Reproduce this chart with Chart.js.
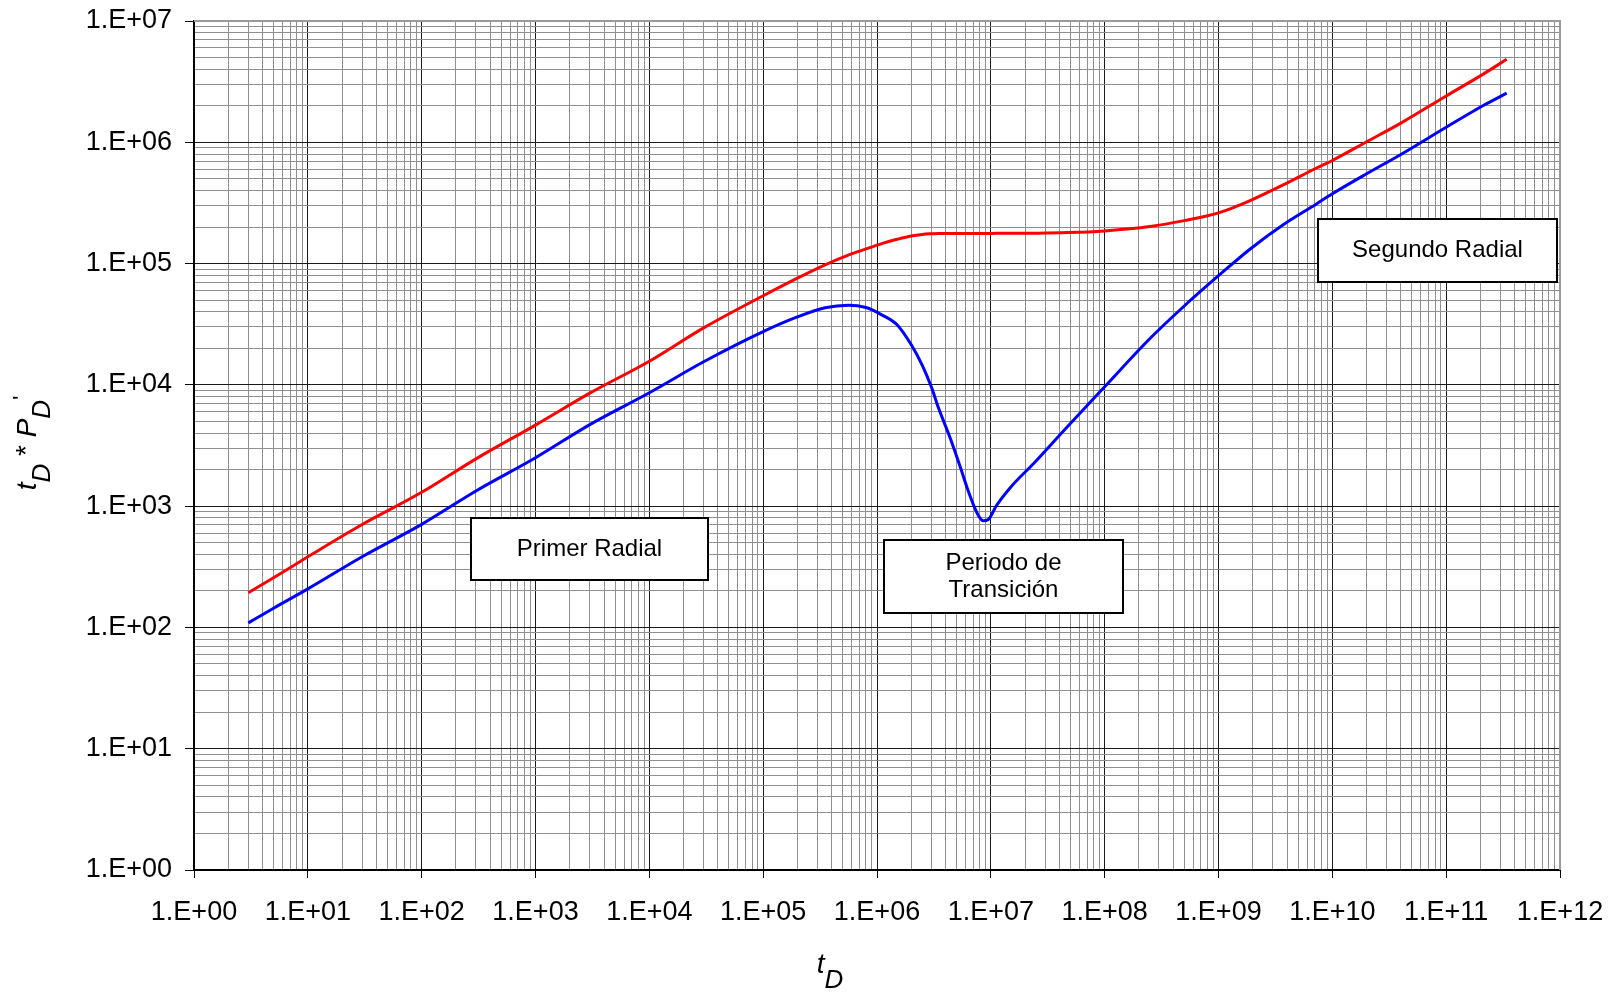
<!DOCTYPE html>
<html>
<head>
<meta charset="utf-8">
<script src="https://cdn.jsdelivr.net/npm/chart.js@4/dist/chart.umd.min.js"></script>
<style>
  body { margin: 0; background: #fff; }
  canvas { display: block; }
</style>
</head>
<body>
<canvas id="grafico" width="1619" height="992"></canvas>
<script>
// tiempo adimensional tD (eje x)
var tD = [3, 5, 10, 30, 100, 300, 1000, 3000, 1e4, 3e4, 1e5, 2e5, 3.5e5, 5.6e5, 8e5,
  1.1e6, 1.5e6, 2e6, 2.5e6, 3e6, 3.5e6, 4.4e6, 5.4e6, 6.3e6, 7.6e6, 8.6e6, 9.5e6,
  1.12e7, 1.5e7, 2.4e7, 4.7e7, 1e8, 2.5e8, 5e8, 1e9, 1.9e9, 3.7e9, 7.2e9, 1e10,
  2e10, 4e10, 1e11, 2.1e11, 3.4e11];

// tD*PD' curva roja
var derivRoja = [193, 257, 382, 705, 1300, 2455, 4660, 8550, 15670, 29500, 54300,
  75900, 97700, 117500, 132000, 146000, 158500, 169000, 174000, 176000, 177000,
  177000, 177000, 177000, 177000, 177000, 177000, 177500, 177500, 178000, 180000,
  186000, 202000, 226000, 262000, 331000, 445000, 611000, 708000, 1010000,
  1440000, 2410000, 3630000, 4830000];

// tD*PD' curva azul
var derivAzul = [109, 144, 208, 383, 708, 1334, 2505, 4700, 8610, 15500, 27500,
  36300, 43200, 45400, 43400, 37800, 31300, 21400, 14500, 9640, 6310, 3630, 2090,
  1350, 871, 757, 776, 1010, 1440, 2270, 4520, 9640, 24100, 44700, 79400, 132000,
  209000, 309000, 376000, 550000, 794000, 1330000, 2000000, 2540000];

var xTickLabels = ['1.E+00', '1.E+01', '1.E+02', '1.E+03', '1.E+04', '1.E+05', '1.E+06',
  '1.E+07', '1.E+08', '1.E+09', '1.E+10', '1.E+11', '1.E+12'];
var yTickLabels = ['1.E+00', '1.E+01', '1.E+02', '1.E+03', '1.E+04', '1.E+05', '1.E+06', '1.E+07'];

// cuadros de texto (en unidades de los ejes)
var cuadros = [
  { lineas: ['Primer Radial'], x0: 2.71e2, x1: 3.28e4, y0: 798, y1: 246 },
  { lineas: ['Periodo de', 'Transición'], x0: 1.15e6, x1: 1.45e8, y0: 526, y1: 131 },
  { lineas: ['Segundo Radial'], x0: 7.48e9, x1: 9.42e11, y0: 2.33e5, y1: 7.05e4 }
];

var FUENTE = '"Liberation Sans", Arial, sans-serif';

function puntos(ys) {
  return tD.map(function (t, i) { return { x: t, y: ys[i] }; });
}

// ticks 1..9 por decada, el 1 es el mayor
function decadas(scale) {
  var ticks = [];
  var e0 = Math.round(Math.log10(scale.min));
  var e1 = Math.round(Math.log10(scale.max));
  for (var e = e0; e <= e1; e++) {
    for (var m = 1; m <= 9; m++) {
      if (e === e1 && m > 1) break;
      ticks.push({ value: m * Math.pow(10, e), major: m === 1 });
    }
  }
  scale.ticks = ticks;
}

function etiqueta(labels) {
  return function (value) {
    var e = Math.log10(value);
    if (Math.abs(e - Math.round(e)) > 1e-9) return '';
    return labels[Math.round(e)] || '';
  };
}

function sinMargen(s) {
  s.paddingTop = 0; s.paddingBottom = 0; s.paddingLeft = 0; s.paddingRight = 0;
}

function colorGrid(ctx) { return ctx.tick && ctx.tick.major ? '#1a1a1a' : '#8f8f8f'; }
function colorTick(ctx) { return ctx.tick && ctx.tick.major ? '#000' : 'rgba(0,0,0,0)'; }

// dibuja texto con subindices/superindices
function textoCompuesto(c, partes, x, y) {
  var ancho = 0;
  partes.forEach(function (p) { c.font = p.f; ancho += c.measureText(p.t).width; });
  var px = x - ancho / 2;
  partes.forEach(function (p) {
    c.font = p.f;
    c.fillText(p.t, px, y + (p.dy || 0));
    px += c.measureText(p.t).width;
  });
}

var extras = {
  id: 'extras',
  afterDatasetsDraw: function (chart) {
    var c = chart.ctx, a = chart.chartArea;
    var sx = chart.scales.x, sy = chart.scales.y;
    c.save();
    // marco gris superior y derecho
    c.strokeStyle = '#9a9a9a';
    c.lineWidth = 2;
    c.beginPath();
    c.moveTo(a.left, a.top);
    c.lineTo(a.right, a.top);
    c.lineTo(a.right, a.bottom);
    c.stroke();
    // cuadros de texto
    cuadros.forEach(function (q) {
      var x0 = Math.round(sx.getPixelForValue(q.x0)), x1 = Math.round(sx.getPixelForValue(q.x1));
      var y0 = Math.round(sy.getPixelForValue(q.y0)), y1 = Math.round(sy.getPixelForValue(q.y1));
      c.fillStyle = '#fff';
      c.fillRect(x0, y0, x1 - x0, y1 - y0);
      c.strokeStyle = '#000';
      c.lineWidth = 2;
      c.strokeRect(x0, y0, x1 - x0, y1 - y0);
      c.fillStyle = '#000';
      c.font = '24px ' + FUENTE;
      c.textAlign = 'center';
      c.textBaseline = 'middle';
      var cy = (y0 + y1) / 2, lh = 27;
      q.lineas.forEach(function (l, i) {
        c.fillText(l, (x0 + x1) / 2, cy + (i - (q.lineas.length - 1) / 2) * lh);
      });
    });
    c.restore();
  },
  afterDraw: function (chart) {
    var c = chart.ctx;
    var fi = 'italic 28px ' + FUENTE, fs = 'italic 26px ' + FUENTE, fn = '28px ' + FUENTE;
    c.save();
    c.fillStyle = '#000';
    c.textAlign = 'left';
    c.textBaseline = 'alphabetic';
    // titulo eje x
    textoCompuesto(c, [{ t: 't', f: fi }, { t: 'D', f: fs, dy: 15 }], 830, 973);
    // titulo eje y
    c.translate(36, 443);
    c.rotate(-Math.PI / 2);
    textoCompuesto(c, [
      { t: 't', f: fi }, { t: 'D', f: fs, dy: 14 }, { t: ' * ', f: fn, dy: -1 },
      { t: 'P', f: fi }, { t: 'D', f: fs, dy: 14 }, { t: "'", f: '22px ' + FUENTE, dy: -8 }
    ], 0, 0);
    c.restore();
  }
};

new Chart(document.getElementById('grafico'), {
  type: 'scatter',
  data: {
    datasets: [
      { data: puntos(derivRoja), showLine: true, borderColor: '#ff0000', borderWidth: 3,
        pointRadius: 0, cubicInterpolationMode: 'monotone' },
      { data: puntos(derivAzul), showLine: true, borderColor: '#0000ff', borderWidth: 3,
        pointRadius: 0, cubicInterpolationMode: 'monotone' }
    ]
  },
  options: {
    responsive: false,
    animation: false,
    layout: { padding: { left: 0, right: 59, top: 21, bottom: 0 } },
    plugins: { legend: { display: false }, tooltip: { enabled: false } },
    scales: {
      x: {
        type: 'logarithmic', min: 1, max: 1e12,
        afterBuildTicks: decadas,
        afterFit: function (s) { s.height = 122; sinMargen(s); },
        ticks: { autoSkip: false, maxRotation: 0, minRotation: 0, padding: 18,
          color: '#000', font: { family: FUENTE, size: 27 }, callback: etiqueta(xTickLabels) },
        grid: { color: colorGrid, tickColor: colorTick, tickLength: 8, lineWidth: 1 },
        border: { color: '#000', width: 2 }
      },
      y: {
        type: 'logarithmic', min: 1, max: 1e7,
        afterBuildTicks: decadas,
        afterFit: function (s) { s.width = 194; sinMargen(s); },
        ticks: { autoSkip: false, padding: 13, color: '#000',
          font: { family: FUENTE, size: 27 }, callback: etiqueta(yTickLabels) },
        grid: { color: colorGrid, tickColor: colorTick, tickLength: 9, lineWidth: 1 },
        border: { color: '#000', width: 2 }
      }
    }
  },
  plugins: [extras]
});
</script>
</body>
</html>
